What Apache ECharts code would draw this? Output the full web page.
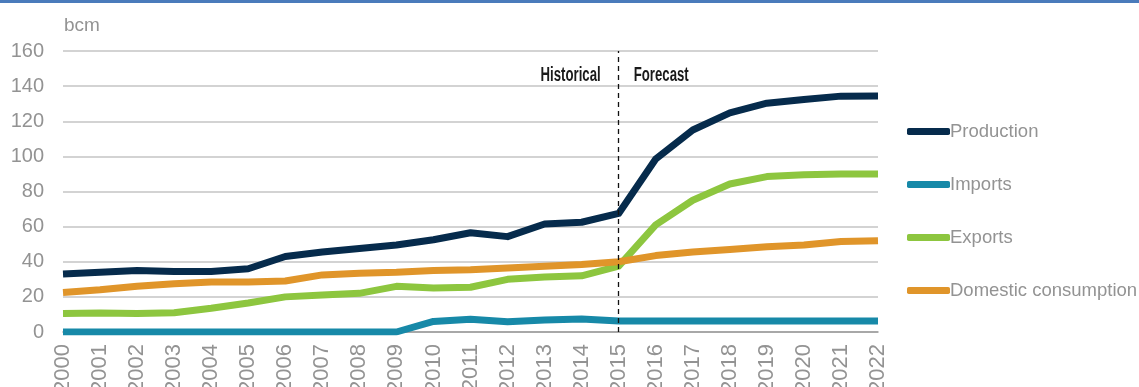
<!DOCTYPE html>
<html>
<head>
<meta charset="utf-8">
<script src="https://cdn.jsdelivr.net/npm/echarts@6/dist/echarts.min.js"></script>
<style>
  html, body { margin: 0; padding: 0; background: #fff; }
  #chart { width: 1139px; height: 387px; }
</style>
</head>
<body>
<div id="chart"></div>
<script>
// Gas balance, bcm
const years = ['2000','2001','2002','2003','2004','2005','2006','2007','2008','2009','2010','2011',
               '2012','2013','2014','2015','2016','2017','2018','2019','2020','2021','2022'];
const production  = [33, 34, 35, 34.5, 34.5, 36, 43, 45.5, 47.5, 49.5, 52.5, 56.5, 54.3, 61.5, 62.5, 67.5, 98.5, 115, 124.8, 130.3, 132.4, 134.3, 134.4];
const imports     = [0, 0, 0, 0, 0, 0, 0, 0, 0, 0, 6, 7.2, 5.8, 6.8, 7.4, 6.3, 6.3, 6.3, 6.3, 6.3, 6.3, 6.3, 6.3];
const exports     = [10.5, 10.8, 10.5, 11, 13.5, 16.5, 20, 21, 22, 26, 25, 25.5, 30, 31.3, 32, 37.5, 61, 75, 84.3, 88.5, 89.6, 90, 90];
const domestic    = [22.5, 24, 26, 27.5, 28.5, 28.5, 29, 32.5, 33.5, 34, 35, 35.5, 36.5, 37.5, 38.5, 40, 43.5, 45.5, 47, 48.5, 49.5, 51.5, 52];
const seriesNames = ['Production', 'Imports', 'Exports', 'Domestic consumption'];
const colors = ['#062b4c', '#1789a8', '#8dc63f', '#e0952a'];
const splitYear = '2015';

const chart = echarts.init(document.getElementById('chart'));
const labelFont = '"Liberation Sans", Arial, sans-serif';
const grey = '#939393';

function lineSeries(name, data, color, extra) {
  return Object.assign({
    name: name,
    type: 'line',
    data: data,
    symbol: 'none',
    lineStyle: { width: 7, color: color, cap: 'butt', join: 'round' },
    itemStyle: { color: color },
    z: 3
  }, extra || {});
}

chart.setOption({
  animation: false,
  grid: { left: 63, right: 261, top: 51, bottom: 55, containLabel: false, outerBoundsMode: 'none' },
  legend: {
    orient: 'vertical',
    left: 902,
    top: 116,
    itemGap: 32,
    itemWidth: 43,
    itemHeight: 7,
    icon: 'roundRect',
    textStyle: { color: grey, fontSize: 18.5, lineHeight: 21, fontFamily: labelFont, padding: [0, 0, 0, -5] },
    data: seriesNames
  },
  xAxis: {
    type: 'category',
    data: years,
    boundaryGap: false,
    axisLine: { lineStyle: { color: '#9a9a9a', width: 1.5 } },
    axisTick: { show: false },
    axisLabel: { rotate: 90, color: grey, fontSize: 22, fontFamily: labelFont, margin: 12 }
  },
  yAxis: {
    type: 'value',
    min: 0,
    max: 160,
    interval: 20,
    name: 'bcm',
    nameLocation: 'end',
    nameGap: 16,
    nameTextStyle: { color: grey, fontSize: 19, fontFamily: labelFont, align: 'left', padding: [0, 0, 0, 1] },
    axisLine: { show: false },
    axisTick: { show: false },
    splitLine: { lineStyle: { color: '#c4c4c4', width: 1.5 } },
    axisLabel: { color: grey, fontSize: 20, fontFamily: labelFont, margin: 19 }
  },
  series: [
    lineSeries(seriesNames[0], production, colors[0], {
      markLine: {
        silent: true,
        symbol: 'none',
        label: { show: false },
        lineStyle: { color: '#111', type: [5, 4], width: 1.3 },
        data: [{ xAxis: splitYear }],
        z: 5
      }
    }),
    lineSeries(seriesNames[1], imports, colors[1]),
    lineSeries(seriesNames[2], exports, colors[2]),
    lineSeries(seriesNames[3], domestic, colors[3])
  ]
});

// Period labels either side of the forecast divider
const splitX = chart.convertToPixel({ xAxisIndex: 0 }, splitYear);
const labelY = chart.convertToPixel({ yAxisIndex: 0 }, 146);
const periodFont = 'bold 20px ' + labelFont;
chart.setOption({
  graphic: [
    { type: 'rect', left: 0, top: 0, shape: { width: 1139, height: 3 }, style: { fill: '#4a7bbb' } },
    { type: 'text', x: splitX - 18, y: labelY, scaleX: 0.66, style: { text: 'Historical', fill: '#1a1a1a', font: periodFont, textAlign: 'right', textVerticalAlign: 'middle' } },
    { type: 'text', x: splitX + 15, y: labelY, scaleX: 0.66, style: { text: 'Forecast', fill: '#1a1a1a', font: periodFont, textAlign: 'left', textVerticalAlign: 'middle' } }
  ]
});
</script>
</body>
</html>
